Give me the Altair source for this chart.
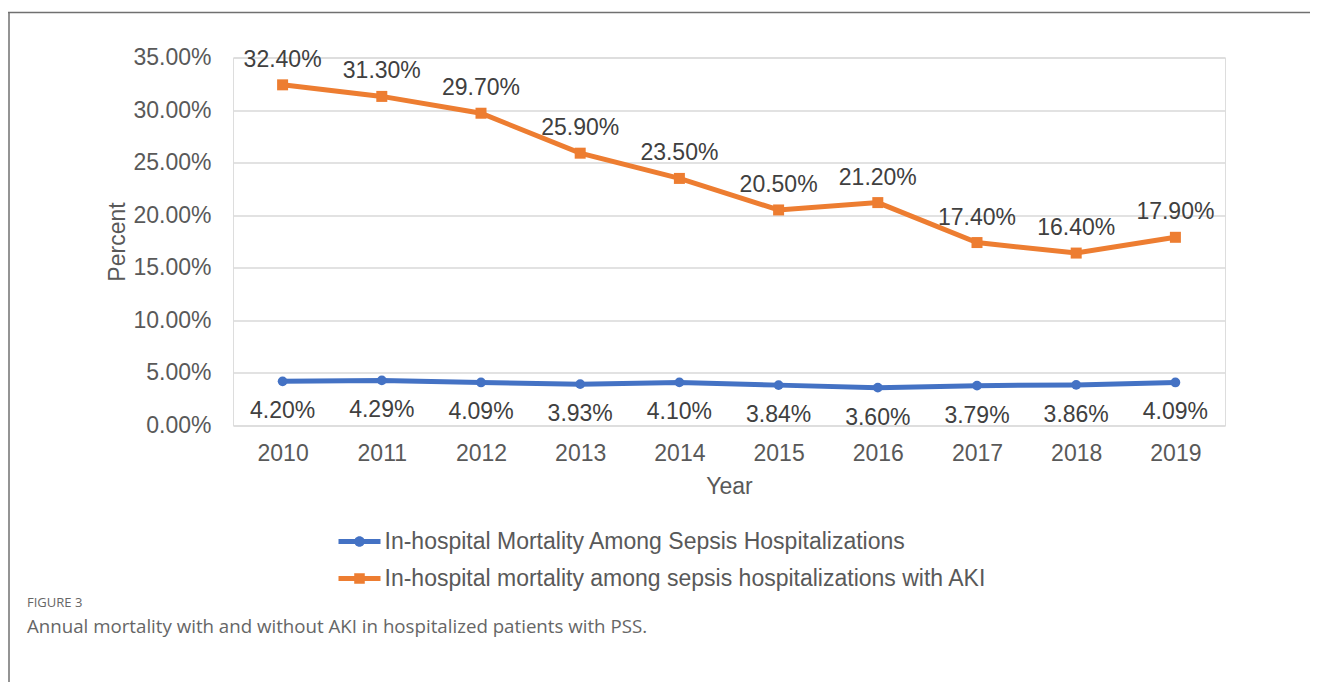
import altair as alt
import pandas as pd

years = ["2010", "2011", "2012", "2013", "2014", "2015", "2016", "2017", "2018", "2019"]
sepsis = [4.20, 4.29, 4.09, 3.93, 4.10, 3.84, 3.60, 3.79, 3.86, 4.09]
aki = [32.40, 31.30, 29.70, 25.90, 23.50, 20.50, 21.20, 17.40, 16.40, 17.90]
series_names = [
    "In-hospital Mortality Among Sepsis Hospitalizations",
    "In-hospital mortality among sepsis hospitalizations with AKI",
]
colors = ["#4472C4", "#ED7D31"]
y_ticks = [0, 0.05, 0.10, 0.15, 0.20, 0.25, 0.30, 0.35]
caption_head = "FIGURE 3"
caption_text = "Annual mortality with and without AKI in hospitalized patients with PSS."

rows = []
for name, vals in zip(series_names, [sepsis, aki]):
    for yr, v in zip(years, vals):
        rows.append({"year": yr, "series": name, "value": v / 100.0})
df = pd.DataFrame(rows)

FONT = "Liberation Sans"
FS = 23

x_enc = alt.X(
    "year:O",
    scale=alt.Scale(type="point", padding=0.5),
    axis=alt.Axis(
        title="Year", labelAngle=0, labelFontSize=FS, labelColor="#595959", labelFont=FONT,
        labelPadding=17, titleFontSize=FS, titleColor="#595959", titleFont=FONT,
        titleFontWeight="normal", titleY=61, titleBaseline="middle",
        grid=False, domain=False, ticks=False,
    ),
)
y_enc = alt.Y(
    "value:Q",
    scale=alt.Scale(domain=[0, 0.35], nice=False, zero=True),
    axis=alt.Axis(
        title="Percent", values=y_ticks, format=".2%", labelFontSize=FS, labelColor="#595959",
        labelFont=FONT, labelPadding=22, titleFontSize=FS, titleColor="#595959", titleFont=FONT,
        titleFontWeight="normal", titleAngle=-90, titleX=-116, titleY=184, titleAlign="center",
        titleBaseline="middle", grid=True, gridColor="#d9d9d9", gridWidth=1.3,
        domain=False, ticks=False,
    ),
)

color_scale = alt.Scale(domain=series_names, range=colors)

base = alt.Chart(df)

lines = base.mark_line(strokeWidth=5).encode(
    x=x_enc, y=y_enc, color=alt.Color("series:N", scale=color_scale, legend=None)
)

points = base.mark_point(filled=True, opacity=1).encode(
    x=x_enc,
    y=y_enc,
    color=alt.Color("series:N", scale=color_scale, legend=None),
    shape=alt.Shape("series:N", scale=alt.Scale(domain=series_names, range=["circle", "square"]), legend=None),
    size=alt.Size("series:N", scale=alt.Scale(domain=series_names, range=[95, 121]), legend=None),
)

labels_top = base.transform_filter(alt.datum.series == series_names[1]).mark_text(
    dy=-25, fontSize=FS, font=FONT, color="#404040"
).encode(x=x_enc, y=y_enc, text=alt.Text("value:Q", format=".2%"))

labels_bottom = base.transform_filter(alt.datum.series == series_names[0]).mark_text(
    dy=30, fontSize=FS, font=FONT, color="#404040"
).encode(x=x_enc, y=y_enc, text=alt.Text("value:Q", format=".2%"))

path_line_circle = "M-2.625,-0.31H2.625V0.31H-2.625Z M0.66,0A0.66,0.66 0 1,1 -0.66,0A0.66,0.66 0 1,1 0.66,0Z"
path_line_square = "M-2.625,-0.31H2.625V0.31H-2.625Z M-0.66,-0.66H0.66V0.66H-0.66Z"

legend_props = dict(
    title=None, orient="none", legendX=115, legendY=472.5, direction="vertical",
    symbolSize=256, symbolStrokeWidth=0, labelFontSize=FS, labelFont=FONT,
    labelColor="#595959", labelOffset=13.5, rowPadding=13, padding=0, labelLimit=900,
)

legend_layer = base.transform_filter("false").mark_point(filled=True, opacity=1).encode(
    color=alt.Color("series:N", scale=color_scale, legend=alt.Legend(**legend_props)),
    shape=alt.Shape(
        "series:N",
        scale=alt.Scale(domain=series_names, range=[path_line_circle, path_line_square]),
        legend=alt.Legend(**legend_props),
    ),
)

cap_df = pd.DataFrame({"head": [caption_head], "text": [caption_text]})
cap_head = alt.Chart(cap_df).mark_text(
    align="left", baseline="middle", font="Open Sans", fontSize=13, fontWeight="normal", color="#666666"
).encode(x=alt.value(-206), y=alt.value(545), text="head:N")
cap_body = alt.Chart(cap_df).mark_text(
    align="left", baseline="middle", font="Open Sans", fontSize=18.7, color="#666666"
).encode(x=alt.value(-206), y=alt.value(569), text="text:N")

frame_top = alt.Chart(cap_df).mark_rule(color="#707070", strokeWidth=1.5).encode(
    x=alt.value(-225), x2=alt.value(1100), y=alt.value(-45)
)
frame_left = alt.Chart(cap_df).mark_rule(color="#707070", strokeWidth=1.5).encode(
    x=alt.value(-224), y=alt.value(-45), y2=alt.value(700)
)

chart = alt.layer(
    lines, points, labels_top, labels_bottom, legend_layer, cap_head, cap_body, frame_top, frame_left
).resolve_scale(
    color="independent", shape="independent", size="independent"
).properties(
    width=992, height=368,
    padding={"left": 225, "top": 49.5, "right": 85, "bottom": 256},
    autosize=alt.AutoSizeParams(type="none"),
).configure_view(stroke=None).configure(background="white")

chart.save("out.html", embed_options={"renderer": "svg", "actions": False})
